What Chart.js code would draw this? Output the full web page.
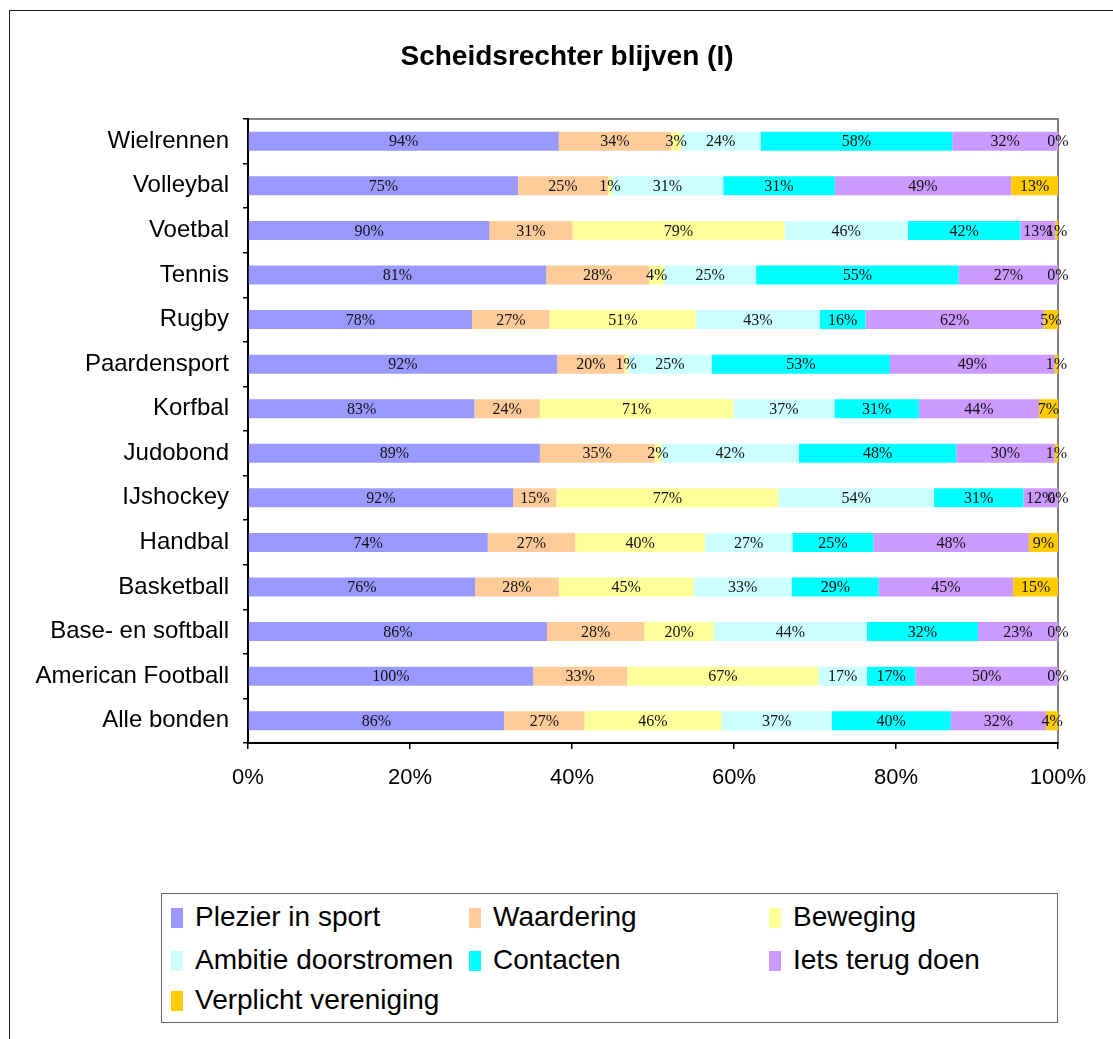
<!DOCTYPE html>
<html>
<head>
<meta charset="utf-8">
<script src="https://cdn.jsdelivr.net/npm/chart.js@4/dist/chart.umd.min.js"></script>
<style>
  html, body { margin: 0; padding: 0; background: #fff; overflow: hidden; }
  #wrap { position: relative; width: 1113px; height: 1039px; }
  #frame { position: absolute; left: 9px; top: 10px; width: 1140px; height: 1060px; border: 1px solid #222; box-sizing: border-box; pointer-events: none; }
  canvas { position: absolute; left: 0; top: 0; }
  #legend { position: absolute; left: 161px; top: 893px; width: 897px; height: 130px; border: 1px solid #666; box-sizing: border-box; background: #fff; font-family: 'Liberation Sans', Arial, sans-serif; font-size: 28px; color: #000; }
  .item { position: absolute; height: 30px; line-height: 30px; white-space: nowrap; }
  .sw { position: absolute; left: 0; top: 5px; width: 12px; height: 20px; }
  .txt { position: absolute; left: 24px; top: -1px; }
</style>
</head>
<body>
<div id="wrap">
  <canvas id="c" width="1113" height="1039"></canvas>
  <div id="frame"></div>
  <div id="legend"></div>
</div>
<script>
const chartTitle = 'Scheidsrechter blijven (I)';
const categories = ['Wielrennen','Volleybal','Voetbal','Tennis','Rugby','Paardensport','Korfbal','Judobond','IJshockey','Handbal','Basketball','Base- en softball','American Football','Alle bonden'];
const seriesNames = ['Plezier in sport','Waardering','Beweging','Ambitie doorstromen','Contacten','Iets terug doen','Verplicht vereniging'];
const plezier    = [94,75,90,81,78,92,83,89,92,74,76,86,100,86];
const waardering = [34,25,31,28,27,20,24,35,15,27,28,28,33,27];
const beweging   = [3,1,79,4,51,1,71,2,77,40,45,20,67,46];
const ambitie    = [24,31,46,25,43,25,37,42,54,27,33,44,17,37];
const contacten  = [58,31,42,55,16,53,31,48,31,25,29,32,17,40];
const ietsTerug  = [32,49,13,27,62,49,44,30,12,48,45,23,50,32];
const verplicht  = [0,13,1,0,5,1,7,1,0,9,15,0,0,4];
const xTicks = [0,20,40,60,80,100];

const seriesValues = [plezier, waardering, beweging, ambitie, contacten, ietsTerug, verplicht];
const colors = ['#9999FF','#FFCC99','#FFFF99','#CCFFFF','#00FFFF','#CC99FF','#FFCC00'];

const totals = categories.map((_, j) => seriesValues.reduce((s, arr) => s + arr[j], 0));

const datasets = seriesNames.map((name, i) => ({
  label: name,
  raw: seriesValues[i],
  data: seriesValues[i].map((v, j) => v / totals[j] * 100),
  backgroundColor: colors[i],
  borderWidth: 0,
  barPercentage: 0.426,
  categoryPercentage: 1.0
}));

const frameAndLabels = {
  id: 'frameAndLabels',
  beforeDraw(chart) {
    const a = chart.chartArea, ctx = chart.ctx;
    ctx.save();
    ctx.strokeStyle = '#808080';
    ctx.lineWidth = 2;
    ctx.strokeRect(a.left, a.top, a.right - a.left, a.bottom - a.top);
    // title, centred over the whole chart box
    ctx.font = 'bold 28px "Liberation Sans", Arial, sans-serif';
    ctx.fillStyle = '#000';
    ctx.textAlign = 'center';
    ctx.textBaseline = 'middle';
    ctx.fillText(chartTitle, 567, 57);
    ctx.restore();
  },
  afterDatasetsDraw(chart) {
    const ctx = chart.ctx;
    ctx.save();
    ctx.font = '16px "Liberation Serif", "Times New Roman", serif';
    ctx.fillStyle = '#111';
    ctx.textAlign = 'center';
    ctx.textBaseline = 'middle';
    chart.data.datasets.forEach((ds, i) => {
      const meta = chart.getDatasetMeta(i);
      meta.data.forEach((bar, j) => {
        const cx = (bar.x + bar.base) / 2;
        ctx.fillText(ds.raw[j] + '%', cx, bar.y + 1);
      });
    });
    ctx.restore();
  }
};

new Chart(document.getElementById('c'), {
  type: 'bar',
  data: { labels: categories, datasets },
  options: {
    responsive: false,
    animation: false,
    indexAxis: 'y',
    layout: { padding: { left: 0, right: 55, top: 119, bottom: 236 } },
    plugins: {
      legend: { display: false },
      tooltip: { enabled: false },
      title: { display: false, text: chartTitle }
    },
    scales: {
      x: {
        type: 'linear',
        stacked: true,
        min: 0, max: 100,
        afterBuildTicks(scale) { scale.ticks = xTicks.map(v => ({ value: v })); },
        afterFit(scale) { scale.height = 60; },
        ticks: {
          callback: v => v + '%',
          color: '#000',
          padding: 16,
          maxRotation: 0,
          font: { family: "'Liberation Sans', Arial, sans-serif", size: 22 }
        },
        grid: { drawOnChartArea: false, drawTicks: true, tickLength: 6, color: '#000', lineWidth: 1.5 },
        border: { display: true, color: '#000', width: 2 }
      },
      y: {
        stacked: true,
        afterFit(scale) { scale.width = 248; },
        ticks: {
          color: '#000',
          padding: 14,
          font: { family: "'Liberation Sans', Arial, sans-serif", size: 24 }
        },
        grid: { drawOnChartArea: false, drawTicks: true, tickLength: 5, color: '#000', lineWidth: 1.5, offset: true },
        border: { display: true, color: '#000', width: 2 }
      }
    }
  },
  plugins: [frameAndLabels]
});

// Legend built from the series arrays (3 columns)
const legend = document.getElementById('legend');
const colX = [9, 307, 607];
const rowY = [9, 52, 92];
seriesNames.forEach((name, i) => {
  const it = document.createElement('div');
  it.className = 'item';
  it.style.left = colX[i % 3] + 'px';
  it.style.top = rowY[Math.floor(i / 3)] + 'px';
  const sw = document.createElement('div');
  sw.className = 'sw';
  sw.style.background = colors[i];
  const tx = document.createElement('span');
  tx.className = 'txt';
  tx.textContent = name;
  it.appendChild(sw); it.appendChild(tx);
  legend.appendChild(it);
});
</script>
</body>
</html>
